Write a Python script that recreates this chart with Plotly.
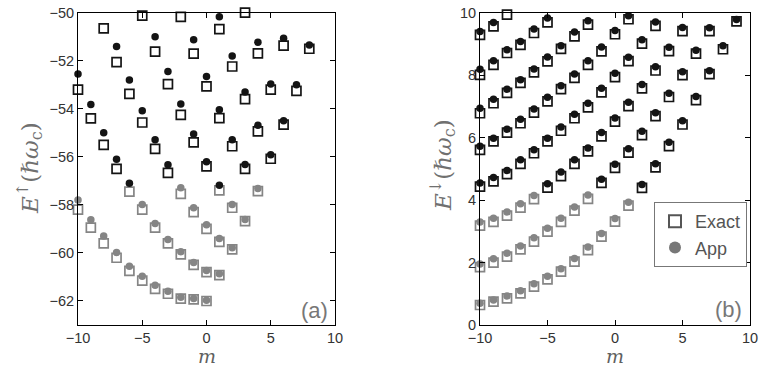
import plotly.graph_objects as go

# ---------------- Panel (a): E-up levels (units of hbar*omega_c) ----------------
a_m_start = [-10, -10, -8, -5, -2, 1, 3, 6, 8]
a_exact = [
    [-58.2, -58.95, -59.6, -60.2, -60.75, -61.15, -61.5, -61.7, -61.9, -61.93, -62.0],
    [-53.2, -54.4, -55.5, -56.5, -57.45, -58.2, -58.95, -59.6, -60.06, -60.5, -60.8, -60.92],
    [-50.65, -52.06, -53.38, -54.57, -55.67, -56.67, -57.54, -58.3, -59.0, -59.54, -59.85],
    [-50.12, -51.62, -52.97, -54.25, -55.4, -56.4, -57.4, -58.12, -58.68],
    [-50.17, -51.7, -53.07, -54.39, -55.56, -56.5, -57.43],
    [-50.68, -52.24, -53.6, -54.94, -56.08],
    [-50.0, -51.69, -53.2, -54.66],
    [-51.37, -53.25],
    [-51.5],
]
a_app = [
    [-57.8, -58.62, -59.3, -59.98, -60.55, -60.97, -61.35, -61.6, -61.85, -61.9, -61.97],
    [-52.55, -53.82, -55.0, -56.1, -57.1, -57.98, -58.78, -59.44, -59.95, -60.4, -60.73, -60.87],
    [None, -51.41, -52.8, -54.08, -55.29, -56.33, -57.29, -58.12, -58.83, -59.4, -59.78],
    [None, -51.0, -52.45, -53.8, -55.05, -56.2, -57.18, -57.98, -58.61],
    [None, -51.13, -52.66, -54.04, -55.29, -56.32, -57.32],
    [-50.17, -51.8, -53.3, -54.69, -55.91],
    [None, -51.23, -52.97, -54.5],
    [-51.06, -53.0],
    [-51.34],
]

# ---------------- Panel (b): E-down levels ----------------
b_m_start = [-10, -10, -10, -10, -10, -10, -10, -10]
b_exact = [
    [0.64, 0.75, 0.85, 1.01, 1.23, 1.46, 1.71, 2.03, 2.4, 2.83, 3.31, 3.82, 4.39, 5.05, 5.73, 6.42, 7.2, 8.03, 8.83, 9.72],
    [1.85, 2.0, 2.19, 2.42, 2.67, 2.99, 3.3, 3.66, 4.04, 4.55, 5.03, 5.52, 6.08, 6.69, 7.3, 8.0, 8.69, 9.41],
    [3.18, 3.3, 3.5, 3.76, 4.03, 4.4, 4.77, 5.16, 5.56, 6.04, 6.51, 7.01, 7.58, 8.15, 8.77, 9.41],
    [4.43, 4.6, 4.83, 5.16, 5.5, 5.88, 6.22, 6.62, 6.97, 7.45, 7.94, 8.45, 9.01, 9.58],
    [5.61, 5.88, 6.16, 6.46, 6.8, 7.16, 7.55, 7.91, 8.33, 8.76, 9.31, 9.79],
    [6.78, 7.1, 7.43, 7.75, 8.09, 8.44, 8.84, 9.24, 9.62],
    [8.01, 8.33, 8.71, 8.97, 9.35, 9.69],
    [9.29, 9.56, 9.94],
]
b_app = [
    [0.7, 0.8, 0.93, 1.1, 1.32, 1.56, 1.8, 2.13, 2.5, 2.93, 3.41, 3.93, 4.5, 5.16, 5.85, 6.54, 7.32, 8.14, 8.94, 9.78],
    [1.95, 2.12, 2.3, 2.53, 2.79, 3.1, 3.42, 3.78, 4.16, 4.67, 5.15, 5.64, 6.2, 6.8, 7.42, 8.11, 8.8, 9.52],
    [3.3, 3.42, 3.62, 3.88, 4.15, 4.52, 4.9, 5.29, 5.67, 6.16, 6.63, 7.13, 7.7, 8.27, 8.89, 9.53],
    [4.55, 4.72, 4.95, 5.29, 5.61, 5.98, 6.34, 6.75, 7.1, 7.58, 8.06, 8.57, 9.13, 9.7],
    [5.72, 5.98, 6.27, 6.59, 6.92, 7.29, 7.66, 8.04, 8.46, 8.9, 9.43, 9.9],
    [6.94, 7.23, 7.55, 7.85, 8.2, 8.58, 8.94, 9.38, 9.74],
    [8.19, 8.46, 8.81, 9.08, 9.48, 9.83],
    [9.4, 9.69, 10.04],
]

a_gray_below = -57.25
b_gray_below = 4.3
x_ticks = [-10, -5, 0, 5, 10]
a_y_ticks = [-62, -60, -58, -56, -54, -52, -50]
b_y_ticks = [0, 2, 4, 6, 8, 10]

BLACK = "#141414"
GRAY = "#858585"


def flatten(starts, series):
    xs, ys = [], []
    for s, vals in zip(starts, series):
        for i, v in enumerate(vals):
            if v is not None:
                xs.append(s + i)
                ys.append(v)
    return xs, ys


fig = go.Figure()


def add_panel(starts, exact, app, thr, xa, ya):
    ex, ey = flatten(starts, exact)
    ax_, ay_ = flatten(starts, app)
    ecol = [GRAY if v < thr else BLACK for v in ey]
    acol = [GRAY if v < thr else BLACK for v in ay_]
    fig.add_trace(go.Scatter(
        x=ex, y=ey, mode="markers", xaxis=xa, yaxis=ya, showlegend=False,
        cliponaxis=False,
        marker=dict(symbol="square", size=9, color="white",
                    line=dict(color=ecol, width=1.7))))
    fig.add_trace(go.Scatter(
        x=ax_, y=ay_, mode="markers", xaxis=xa, yaxis=ya, showlegend=False,
        cliponaxis=False,
        marker=dict(symbol="circle", size=7.5, color=acol, line=dict(width=0))))


add_panel(a_m_start, a_exact, a_app, a_gray_below, "x", "y")
add_panel(b_m_start, b_exact, b_app, b_gray_below, "x2", "y2")

# legend entries
fig.add_trace(go.Scatter(x=[None], y=[None], mode="markers", name="Exact",
                         xaxis="x2", yaxis="y2",
                         marker=dict(symbol="square", size=7, color="white",
                                     line=dict(color="#555555", width=1.4))))
fig.add_trace(go.Scatter(x=[None], y=[None], mode="markers", name="App",
                         xaxis="x2", yaxis="y2",
                         marker=dict(symbol="circle", size=6, color="#777777")))

W, H = 760, 368
axis_common = dict(showline=True, linecolor="black", linewidth=1, mirror="ticks",
                   ticks="inside", ticklen=5, tickcolor="black", showgrid=False,
                   zeroline=False, automargin=False,
                   tickfont=dict(family="Liberation Sans, Arial", size=14.5, color="#333333"))

ydom = [(H - 325) / H, (H - 12.7) / H]
fig.update_layout(
    width=W, height=H,
    margin=dict(l=0, r=0, t=0, b=0),
    paper_bgcolor="white", plot_bgcolor="white",
    xaxis=dict(domain=[78 / W, 335 / W], range=[-10, 10], tickvals=x_ticks, anchor="y", **axis_common),
    yaxis=dict(domain=ydom, range=[-63, -50], tickvals=a_y_ticks, anchor="x", **axis_common),
    xaxis2=dict(domain=[480 / W, 750 / W], range=[-10, 10], tickvals=x_ticks, anchor="y2", **axis_common),
    yaxis2=dict(domain=ydom, range=[0, 10], tickvals=b_y_ticks, anchor="x2", **axis_common),
    legend=dict(x=747 / W, y=(H - 202) / H, xanchor="right", yanchor="top",
                bgcolor="white", bordercolor="#777777", borderwidth=1,
                font=dict(family="Liberation Sans, Arial", size=18, color="#555555"),
                itemsizing="constant", tracegroupgap=0, itemwidth=30),
    showlegend=True,
)

label_font = dict(family="DejaVu Serif, Liberation Serif", size=23, color="#707070")
m_font = dict(family="DejaVu Serif, Liberation Serif", size=19, color="#606060")
ann = [
    dict(x=29 / W, y=(H - 168) / H, text="<i>E</i><sup>↑</sup>(<i>ℏω</i><sub>c</sub>)",
         textangle=-90, font=label_font, yanchor="middle"),
    dict(x=442 / W, y=(H - 165) / H, text="<i>E</i><sup>↓</sup>(<i>ℏω</i><sub>c</sub>)",
         textangle=-90, font=label_font, yanchor="middle"),
    dict(x=206.5 / W, y=0.0, text="<i>m</i>", font=m_font, yanchor="bottom", borderpad=0),
    dict(x=615 / W, y=0.0, text="<i>m</i>", font=m_font, yanchor="bottom", borderpad=0),
    dict(x=314 / W, y=(H - 310) / H, text="(a)", yanchor="middle",
         font=dict(family="Liberation Sans, Arial", size=22, color="#777777")),
    dict(x=728 / W, y=(H - 309) / H, text="(b)", yanchor="middle",
         font=dict(family="Liberation Sans, Arial", size=22, color="#777777")),
]
for a in ann:
    a.update(xref="paper", yref="paper", showarrow=False, xanchor="center")
fig.update_layout(annotations=ann)

fig.write_html("out.html")
